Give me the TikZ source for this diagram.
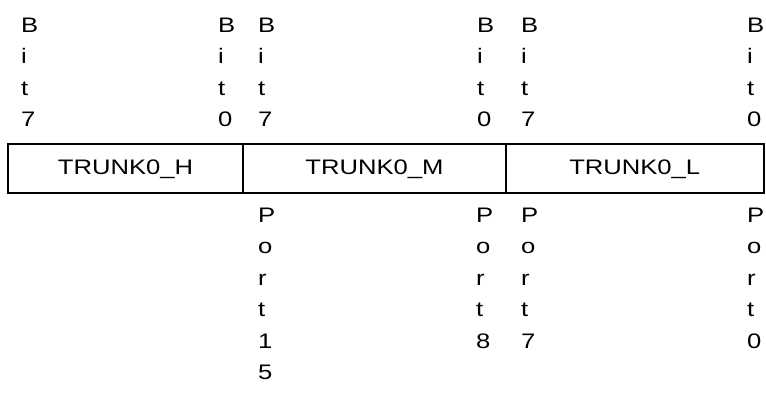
\documentclass[tikz,border=0pt]{standalone}
\usepackage{fontspec}
\setmainfont{Liberation Sans}[FakeStretch=1.22]
\begin{document}
\begin{tikzpicture}[x=1pt,y=-1pt,
  lbl/.style={font=\fontsize{21}{31.5}\selectfont},
  vlab/.style={lbl, anchor=north west, align=left, inner sep=0pt},
  seg/.style={lbl, draw=black, line width=2pt, inner sep=0pt, minimum height=49pt}]
\useasboundingbox (0,0) rectangle (766,395);
% register
\node[seg, minimum width=235pt]   (h) at (125.5,169) {TRUNK0\_H};
\node[seg, minimum width=263pt]   (m) at (374.5,169) {TRUNK0\_M};
\node[seg, minimum width=257.5pt] (l) at (634.75,169) {TRUNK0\_L};
% bit labels above
\node[vlab] (b1) at (21,17.5)  {B\\i\\t\\7};
\node[vlab] (b2) at (218,17.5) {B\\i\\t\\0};
\node[vlab] (b3) at (258,17.5) {B\\i\\t\\7};
\node[vlab] (b4) at (477,17.5) {B\\i\\t\\0};
\node[vlab] (b5) at (521,17.5) {B\\i\\t\\7};
\node[vlab] (b6) at (747,17.5) {B\\i\\t\\0};
% port labels below
\node[vlab] (p1) at (258,207.5) {P\\o\\r\\t\\1\\5};
\node[vlab] (p2) at (476,207.5) {P\\o\\r\\t\\8};
\node[vlab] (p3) at (521,207.5) {P\\o\\r\\t\\7};
\node[vlab] (p4) at (747,207.5) {P\\o\\r\\t\\0};
\end{tikzpicture}
\end{document}
